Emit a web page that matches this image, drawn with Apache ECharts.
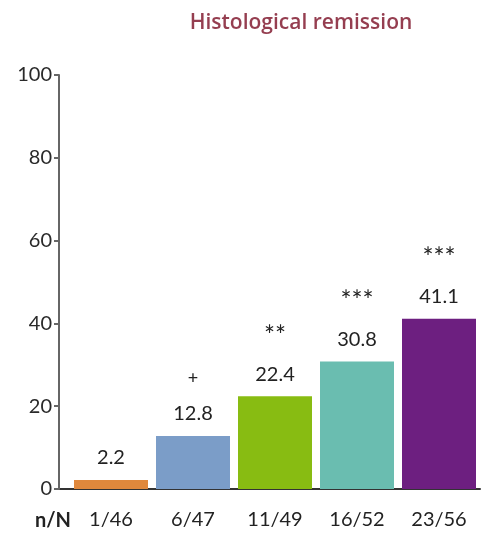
<!DOCTYPE html>
<html>
<head>
<meta charset="utf-8">
<script src="https://cdn.jsdelivr.net/npm/echarts@6/dist/echarts.min.js"></script>
<style>
  html, body { margin: 0; padding: 0; background: #fff; }
  #chart { width: 485px; height: 533px; }
</style>
</head>
<body>
<div id="chart"></div>
<script>
var categories = ['1/46', '6/47', '11/49', '16/52', '23/56'];
var values = [2.2, 12.8, 22.4, 30.8, 41.1];
var signif = ['', '+', '**', '***', '***'];
var barColors = ['#e0883c', '#7b9dc8', '#88bc12', '#6abdb0', '#6d1f80'];
var yTicks = { min: 0, max: 100, interval: 20 };

var chart = echarts.init(document.getElementById('chart'));

var barData = values.map(function (v, i) {
  return { value: v, itemStyle: { color: barColors[i] } };
});

var option = {
  animation: false,
  backgroundColor: '#fff',
  textStyle: { fontFamily: 'Lato, "Open Sans", sans-serif' },
  grid: { left: 70, right: 5, top: 75, bottom: 44 },
  title: {
    text: 'Histological remission',
    left: 296,
    textAlign: 'center',
    top: 8,
    textStyle: {
      fontFamily: '"Open Sans", sans-serif',
      fontSize: 21,
      fontWeight: 600,
      color: '#953e50'
    }
  },
  xAxis: {
    type: 'category',
    data: categories,
    axisLine: { lineStyle: { color: '#333', width: 2 } },
    axisTick: { show: false },
    axisLabel: { color: '#222', fontSize: 20, margin: 21 }
  },
  yAxis: {
    type: 'value',
    min: yTicks.min,
    max: yTicks.max,
    interval: yTicks.interval,
    offset: 11,
    axisLine: { show: true, lineStyle: { color: '#666', width: 2 } },
    axisTick: { show: true, length: 5, lineStyle: { color: '#666', width: 2 } },
    splitLine: { show: false },
    axisLabel: { color: '#2a2a2a', fontSize: 20, margin: 7 }
  },
  series: [{
    type: 'bar',
    data: barData,
    barWidth: 74,
    label: {
      show: true,
      position: 'top',
      distance: 10,
      formatter: function (p) {
        var s = signif[p.dataIndex];
        var v = '{v|' + p.value + '}';
        if (!s) return v;
        // plus sign drawn smaller than the asterisks
        return (s === '+' ? '{p|' : '{s|') + s + '}\n' + v;
      },
      rich: {
        v: { fontSize: 20, color: '#222', lineHeight: 24, align: 'center' },
        s: { fontSize: 26, color: '#222', lineHeight: 52, align: 'center' },
        p: { fontSize: 18, color: '#222', lineHeight: 48, align: 'center' }
      }
    }
  }],
  graphic: [
    {
      type: 'line',
      shape: { x1: 58, y1: 489, x2: 71, y2: 489 },
      style: { stroke: '#333', lineWidth: 2 }
    },
    {
      type: 'text',
      left: 35,
      top: 511,
      style: { text: 'n/N', fontSize: 20, fontWeight: 'bold', fill: '#222', fontFamily: 'Lato, sans-serif' }
    }
  ]
};

chart.setOption(option);
</script>
</body>
</html>
